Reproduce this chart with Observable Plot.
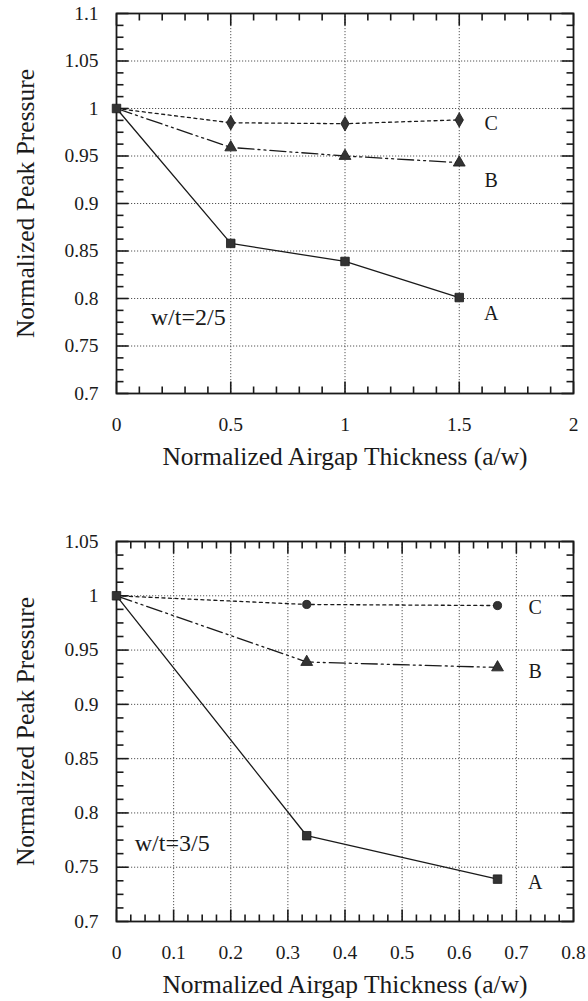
<!DOCTYPE html>
<html>
<head>
<meta charset="utf-8">
<script src="https://cdn.jsdelivr.net/npm/d3@7"></script>
<script src="https://cdn.jsdelivr.net/npm/@observablehq/plot@0.6"></script>
<style>
  html, body { margin: 0; padding: 0; background: #fff; }
  #wrap { width: 588px; }
  #wrap svg { display: block; }
  #wrap svg text { font-family: "Liberation Serif", "DejaVu Serif", serif !important; }
</style>
</head>
<body>
<div id="wrap"></div>
<script>
// ---------- data: top panel (w/t = 2/5) ----------
const topX = [0, 0.5, 1.0, 1.5];
const topA = [1.0, 0.858, 0.839, 0.801];
const topB = [1.0, 0.959, 0.950, 0.943];
const topC = [1.0, 0.985, 0.984, 0.988];
const topXTicks = [0, 0.5, 1, 1.5, 2];
const topXTickLabels = ["0", "0.5", "1", "1.5", "2"];
const topYTicks = [0.7, 0.75, 0.8, 0.85, 0.9, 0.95, 1, 1.05, 1.1];
const topYTickLabels = ["0.7", "0.75", "0.8", "0.85", "0.9", "0.95", "1", "1.05", "1.1"];
const topNote = "w/t=2/5";

// ---------- data: bottom panel (w/t = 3/5) ----------
const botX = [0, 0.333, 0.667];
const botA = [1.0, 0.779, 0.739];
const botB = [1.0, 0.939, 0.934];
const botC = [1.0, 0.992, 0.991];
const botXTicks = [0, 0.1, 0.2, 0.3, 0.4, 0.5, 0.6, 0.7, 0.8];
const botXTickLabels = ["0", "0.1", "0.2", "0.3", "0.4", "0.5", "0.6", "0.7", "0.8"];
const botYTicks = [0.7, 0.75, 0.8, 0.85, 0.9, 0.95, 1, 1.05];
const botYTickLabels = ["0.7", "0.75", "0.8", "0.85", "0.9", "0.95", "1", "1.05"];
const botNote = "w/t=3/5";

const seriesNames = ["A", "B", "C"];
const xTitle = "Normalized Airgap Thickness (a/w)";
const yTitle = "Normalized Peak Pressure";

const FONT = "Liberation Serif";
const INK = "#1a1a1a";

function panel(cfg) {
  const {xs, ys, xDomain, yDomain, xTicks, xTickLabels, yTicks, yTickLabels,
         xMinorStep, yMinorStep, note, noteX, noteY, labelPos, cSymbol,
         height, marginTop, marginBottom} = cfg;
  const marginLeft = 116, marginRight = 15, width = 588;
  const plotW = width - marginLeft - marginRight;
  const plotH = height - marginTop - marginBottom;
  const kx = (xDomain[1] - xDomain[0]) / plotW; // data units per px
  const ky = (yDomain[1] - yDomain[0]) / plotH;

  const rows = [];
  seriesNames.forEach((s, i) => xs.forEach((x, j) => rows.push({series: s, x, y: ys[i][j]})));
  const sel = s => rows.filter(d => d.series === s);

  const minorLen = 7, majorLen = 12;
  const isMajor = (v, ticks) => ticks.some(t => Math.abs(t - v) < 1e-6);
  const nx = Math.round((xDomain[1] - xDomain[0]) / xMinorStep);
  const ny = Math.round((yDomain[1] - yDomain[0]) / yMinorStep);
  const xTickMarks = [];
  for (let i = 0; i <= nx; i++) {
    const v = xDomain[0] + i * xMinorStep;
    const len = isMajor(v, xTicks) ? majorLen : minorLen;
    xTickMarks.push({x: v, y1: yDomain[0], y2: yDomain[0] + len * ky});
    xTickMarks.push({x: v, y1: yDomain[1], y2: yDomain[1] - len * ky});
  }
  const yTickMarks = [];
  for (let i = 0; i <= ny; i++) {
    const v = yDomain[0] + i * yMinorStep;
    const len = isMajor(v, yTicks) ? majorLen : minorLen;
    yTickMarks.push({y: v, x1: xDomain[0], x2: xDomain[0] + len * kx});
    yTickMarks.push({y: v, x1: xDomain[1], x2: xDomain[1] - len * kx});
  }

  const fmtX = v => xTickLabels[xTicks.findIndex(t => Math.abs(t - v) < 1e-9)];
  const fmtY = v => yTickLabels[yTicks.findIndex(t => Math.abs(t - v) < 1e-9)];

  const gridStyle = {stroke: "#555", strokeWidth: 1, strokeDasharray: "1.2,1.8", strokeOpacity: 1};

  return Plot.plot({
    width, height, marginLeft, marginRight, marginTop, marginBottom,
    style: {fontFamily: FONT, fontSize: "19px", background: "#fff", color: INK},
    x: {domain: xDomain, label: null},
    y: {domain: yDomain, label: null},
    marks: [
      Plot.gridX(xTicks.filter(t => t > xDomain[0] && t < xDomain[1]), gridStyle),
      Plot.gridY(yTicks.filter(t => t > yDomain[0] && t < yDomain[1]), gridStyle),
      Plot.link(xTickMarks, {x1: "x", x2: "x", y1: "y1", y2: "y2", stroke: INK, strokeWidth: 1.6}),
      Plot.link(yTickMarks, {y1: "y", y2: "y", x1: "x1", x2: "x2", stroke: INK, strokeWidth: 1.6}),
      Plot.axisX(xTicks, {tickSize: 0, tickPadding: 24, tickFormat: fmtX, fontSize: 19.5, fontFamily: FONT, fill: INK, label: null}),
      Plot.axisY(yTicks, {tickSize: 0, tickPadding: 18, tickFormat: fmtY, fontSize: 19.5, fontFamily: FONT, fill: INK, label: null}),
      Plot.frame({stroke: INK, strokeWidth: 1.8}),
      // series
      Plot.line(sel("A"), {x: "x", y: "y", stroke: INK, strokeWidth: 1.3}),
      Plot.line(sel("B"), {x: "x", y: "y", stroke: INK, strokeWidth: 1.3, strokeDasharray: "16,4,2,4,2,4"}),
      Plot.line(sel("C"), {x: "x", y: "y", stroke: INK, strokeWidth: 1.3, strokeDasharray: "3,3.5"}),
      Plot.dot(sel("A"), {x: "x", y: "y", symbol: "square", r: 4.8, fill: "#333", stroke: INK, strokeWidth: 0.8}),
      Plot.dot(sel("B").slice(1), {x: "x", y: "y", symbol: "triangle", r: 4.4, fill: "#333", stroke: INK, strokeWidth: 0.8}),
      Plot.dot(sel("C").slice(1), {x: "x", y: "y", symbol: cSymbol, r: cSymbol === "circle" ? 4.1 : 4.4, fill: "#333", stroke: INK, strokeWidth: 0.8}),
      // series labels
      Plot.text(labelPos, {x: "x", y: "y", text: "label", fontSize: 20, fontFamily: FONT, fill: INK, textAnchor: "middle"}),
      // annotation
      Plot.text([note], {x: noteX, y: noteY, textAnchor: "start", fontSize: 24, fontFamily: FONT, fill: INK}),
      // axis titles
      Plot.text([xTitle], {frameAnchor: "bottom", dy: 63, fontSize: 25.5, fontFamily: FONT, fill: INK, textAnchor: "middle", lineAnchor: "middle"}),
      Plot.text([yTitle], {frameAnchor: "left", dx: -91, rotate: -90, fontSize: 25.5, fontFamily: FONT, fill: INK, textAnchor: "middle", lineAnchor: "middle"})
    ]
  });
}

const topLabels = [
  {label: "C", x: 1.64, y: 0.984},
  {label: "B", x: 1.64, y: 0.924},
  {label: "A", x: 1.64, y: 0.784}
];
const botLabels = [
  {label: "C", x: 0.733, y: 0.989},
  {label: "B", x: 0.733, y: 0.930},
  {label: "A", x: 0.733, y: 0.736}
];

const wrap = document.getElementById("wrap");
wrap.appendChild(panel({
  xs: topX, ys: [topA, topB, topC], xDomain: [0, 2], yDomain: [0.7, 1.1],
  xTicks: topXTicks, xTickLabels: topXTickLabels, yTicks: topYTicks, yTickLabels: topYTickLabels,
  xMinorStep: 0.1, yMinorStep: 0.0125, note: topNote, noteX: 0.15, noteY: 0.78,
  labelPos: topLabels, cSymbol: "diamond", height: 500, marginTop: 13, marginBottom: 107
}));
wrap.appendChild(panel({
  xs: botX, ys: [botA, botB, botC], xDomain: [0, 0.8], yDomain: [0.7, 1.05],
  xTicks: botXTicks, xTickLabels: botXTickLabels, yTicks: botYTicks, yTickLabels: botYTickLabels,
  xMinorStep: 0.025, yMinorStep: 0.0125, note: botNote, noteX: 0.032, noteY: 0.772,
  labelPos: botLabels, cSymbol: "circle", height: 501, marginTop: 41, marginBottom: 80
}));
</script>
</body>
</html>
